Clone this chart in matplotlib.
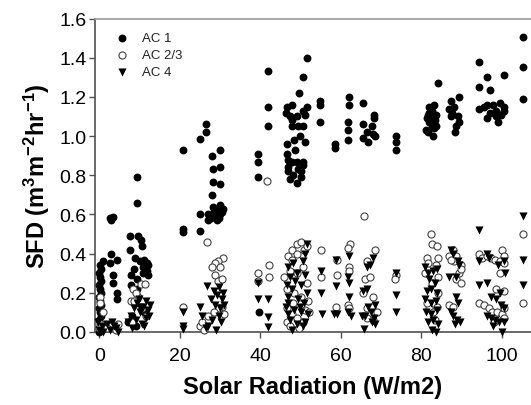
import matplotlib
matplotlib.use('Agg')
import matplotlib.pyplot as plt

plt.rcParams['font.family'] = ['Liberation Sans', 'DejaVu Sans']
plt.rcParams['mathtext.fontset'] = 'custom'
plt.rcParams['mathtext.rm'] = 'Liberation Sans:bold'
plt.rcParams['mathtext.it'] = 'Liberation Sans:bold'
plt.rcParams['mathtext.bf'] = 'Liberation Sans:bold'
plt.rcParams['mathtext.default'] = 'rm'

# AC 1 (filled circles)
ac1_x = [-0.2, 0.3, 0.1, -0.2, 0.3, 0.1, -0.2, 0.3, 0.1, -0.2, 0.3, 0.1, -0.2, 0.3, 0.1, -0.2, 0.3, 0.1, 0.9,
         2.6, 3.4, 3.0, 3.0, 4.4, 2.6, 3.4, 3.4, 4.4, 4.4, 3.5,
         9.3, 9.3, 7.6, 9.6, 10.3, 7.6, 10.5, 8.8, 11.0, 10.0, 11.8, 10.8, 8.6, 11.3, 7.8, 9.4, 10.8, 11.8,
         12.2, 12.0, 7.8, 9.3, 7.0, 8.0, 9.0, 11.0,
         20.8, 20.8, 20.8, 25.0, 26.5, 26.5, 25.0, 25.0,
         28.0, 30.0, 28.2, 30.0, 28.2, 30.0, 28.0, 28.2, 30.0, 27.0, 28.7, 30.5, 29.2, 27.0, 30.7, 29.5,
         28.5, 29.8, 30.0, 27.8,
         39.4, 39.4, 39.4, 41.9, 41.9, 41.9, 39.6,
         51.6, 50.7, 49.5, 46.6, 47.8, 51.6, 50.5, 51.2, 47.3, 49.0, 48.0, 49.3, 50.7, 48.5, 51.2, 46.6,
         46.6, 47.8, 49.0, 50.5, 50.7, 49.3, 46.8, 47.3, 49.0, 50.0, 47.0, 48.2, 50.2, 48.0, 46.5, 49.8,
         48.6, 47.0, 54.8, 54.8, 54.8,
         58.5, 58.5, 62.1, 62.1, 61.9, 61.9, 61.9,
         65.5, 68.3, 68.3, 65.5, 67.8, 68.0, 65.5, 66.5, 66.8, 68.5,
         73.8, 73.8, 73.8,
         84.2, 82.0, 83.2, 82.7, 81.7, 83.7, 82.5, 81.5, 82.7, 83.7, 81.2, 83.2, 82.0, 83.5, 82.0, 81.6, 83.0,
         87.4, 89.4, 86.9, 88.2, 87.4, 89.2, 89.4, 88.7, 88.4, 87.6,
         94.3, 96.3, 94.3, 97.0, 100.5, 94.3, 96.3, 97.8, 99.5, 98.5, 100.7, 97.0, 99.8, 96.3, 99.0, 98.7,
         100.5, 95.5,
         105.3, 105.3, 105.3]
ac1_y = [0.00, 0.02, 0.04, 0.06, 0.08, 0.10, 0.12, 0.14, 0.16, 0.18, 0.20, 0.22, 0.24, 0.26, 0.28, 0.30, 0.32,
         0.34, 0.36,
         0.58, 0.585, 0.57, 0.40, 0.37, 0.35, 0.29, 0.25, 0.20, 0.17, 0.03,
         0.79, 0.66, 0.49, 0.49, 0.47, 0.42, 0.44, 0.38, 0.37, 0.36, 0.35, 0.33, 0.32, 0.32, 0.29, 0.27, 0.30,
         0.31, 0.34, 0.29, 0.24, 0.22, 0.05, 0.08, 0.03, 0.10,
         0.93, 0.525, 0.51, 0.985, 1.02, 1.06, 0.60, 0.515,
         0.90, 0.93, 0.83, 0.84, 0.765, 0.755, 0.70, 0.64, 0.65, 0.60, 0.59, 0.61, 0.57, 0.57, 0.63, 0.62,
         0.62, 0.58, 0.60, 0.58,
         0.91, 0.87, 0.79, 1.33, 1.15, 1.05, 0.10,
         1.40, 1.30, 1.22, 1.15, 1.16, 1.15, 1.13, 1.11, 1.10, 1.10, 1.05, 1.05, 1.05, 0.98, 0.97, 0.96,
         0.91, 0.87, 0.87, 0.87, 0.85, 0.83, 0.82, 0.78, 0.76, 0.82, 0.84, 0.80, 0.79, 1.08, 1.12, 1.00,
         0.93, 0.88, 1.18, 1.16, 1.07,
         0.96, 0.94, 1.20, 1.16, 1.07, 1.03, 0.98,
         1.17, 1.11, 1.09, 1.06, 1.05, 1.01, 0.99, 1.02, 0.97, 1.00,
         1.00, 0.97, 0.93,
         1.27, 1.15, 1.16, 1.13, 1.11, 1.11, 1.09, 1.09, 1.05, 1.05, 1.03, 1.04, 1.07, 1.08, 1.12, 1.02, 1.00,
         1.18, 1.20, 1.14, 1.15, 1.10, 1.10, 1.07, 1.05, 1.02, 1.12,
         1.38, 1.30, 1.25, 1.235, 1.31, 1.14, 1.16, 1.16, 1.17, 1.13, 1.13, 1.12, 1.11, 1.09, 1.07, 1.10,
         1.15, 1.15,
         1.505, 1.35, 1.19]

# AC 2/3 (open circles)
ac23_x = [0.2, 0.2, 0.5, -0.2, 0.8,
          4.6, 3.0, 2.0, 4.0,
          10.3, 11.3, 8.3, 9.6, 7.8, 8.6, 9.0, 10.5, 8.0, 11.5,
          20.8,
          26.7, 30.7, 29.5, 28.8, 28.0, 30.0, 28.7, 29.5, 30.5, 25.0, 25.5, 30.5, 29.8, 27.0, 28.5, 31.0, 26.0,
          41.7, 39.4, 39.4, 42.2, 42.2,
          46.8, 47.8, 48.0, 49.2, 50.0, 50.8, 51.5, 49.0, 47.3, 49.0, 50.5, 51.5, 46.6, 48.5, 50.2, 46.6,
          47.8, 49.0, 51.0, 52.0, 46.6, 47.5, 49.5, 50.5, 48.2, 51.8, 46.0,
          55.1, 55.1, 59.0, 59.0, 58.8,
          62.4, 61.9, 62.1, 62.1, 61.9, 62.1,
          65.8, 68.5, 66.5, 66.0, 67.3, 68.0, 65.5, 66.5, 67.8, 68.0, 66.5, 69.0,
          73.8, 73.5,
          82.5, 82.7, 84.0, 81.5, 84.2, 83.7, 81.6, 84.2, 82.8, 81.0, 82.0, 83.0, 84.0, 83.5, 81.5, 84.2,
          86.9, 88.7, 88.2, 87.4, 89.9, 88.7, 89.5, 86.9, 87.9, 89.8, 88.0, 90.0,
          94.3, 95.0, 96.3, 97.3, 98.4, 100.0, 100.5, 99.5, 100.7, 94.3, 95.5, 96.8, 97.5, 98.8, 100.2,
          100.5, 100.7, 100.5, 98.5, 99.6, 98.0,
          105.3, 105.3]
ac23_y = [0.18, 0.15, 0.04, 0.02, 0.10,
          0.04, 0.03, 0.02, 0.01,
          0.245, 0.245, 0.22, 0.18, 0.16, 0.16, 0.20, 0.12, 0.05, 0.08,
          0.13,
          0.46, 0.38, 0.36, 0.35, 0.33, 0.33, 0.29, 0.26, 0.27, 0.03, 0.05, 0.13, 0.12, 0.08, 0.10, 0.09, 0.01,
          0.77, 0.30, 0.26, 0.34, 0.28,
          0.39, 0.37, 0.42, 0.45, 0.46, 0.42, 0.44, 0.40, 0.31, 0.30, 0.33, 0.25, 0.22, 0.20, 0.18, 0.12,
          0.09, 0.07, 0.11, 0.10, 0.05, 0.03, 0.02, 0.05, 0.15, 0.16, 0.28,
          0.42, 0.28, 0.37, 0.29, 0.13,
          0.45, 0.43, 0.33, 0.31, 0.14, 0.12,
          0.59, 0.42, 0.36, 0.27, 0.28, 0.18, 0.20, 0.12, 0.13, 0.06, 0.07, 0.10,
          0.29, 0.27,
          0.50, 0.45, 0.44, 0.38, 0.38, 0.34, 0.35, 0.28, 0.25, 0.30, 0.12, 0.10, 0.13, 0.06, 0.15, 0.20,
          0.39, 0.39, 0.36, 0.37, 0.34, 0.27, 0.30, 0.14, 0.13, 0.32, 0.42, 0.25,
          0.40, 0.38, 0.39, 0.38, 0.37, 0.42, 0.39, 0.36, 0.35, 0.15, 0.14, 0.12, 0.10, 0.10, 0.09,
          0.12, 0.07, 0.21, 0.22, 0.30, 0.05,
          0.50, 0.15]

# AC 4 (filled triangles)
ac4_x = [0.0, 0.6, -0.4, 1.0,
         1.8, 3.2, 4.0, 4.6, 3.6, 2.6,
         7.0, 7.8, 8.5, 9.3, 10.0, 10.8, 11.5, 12.0, 12.5, 9.0, 10.5, 11.5, 8.0, 12.3, 9.8, 11.0, 10.0,
         20.8, 20.8, 20.8,
         26.7, 28.5, 29.8, 30.8, 25.0, 25.5, 27.8, 28.8, 30.0, 28.0, 27.0, 29.0, 30.3, 29.2, 30.5, 26.5,
         29.8, 31.0,
         39.4, 39.4, 41.9, 41.9, 41.9,
         51.6, 51.2, 46.8, 48.2, 50.5, 47.3, 49.0, 51.0, 46.6, 48.0, 50.0, 51.5, 47.0, 49.3, 50.8, 46.5,
         48.5, 50.0, 51.8, 47.5, 49.0, 50.5, 48.0, 51.0, 47.0, 49.8, 48.6, 46.8,
         55.1, 55.1, 55.3, 58.8, 58.8, 59.0, 58.2,
         62.1, 61.9, 62.1, 61.9, 62.6, 62.1,
         68.0, 67.3, 66.5, 66.5, 65.5, 68.5, 66.8, 67.6, 66.0, 65.3, 68.3, 67.8, 68.5, 65.8,
         73.8, 73.8, 73.8,
         81.0, 81.8, 83.0, 84.0, 82.0, 83.5, 82.5, 81.5, 84.0, 81.0, 82.5, 83.7, 81.2, 82.5, 84.0, 83.0,
         81.8, 82.6, 83.8, 84.2,
         87.4, 87.9, 89.2, 89.4, 86.9, 88.7, 88.7, 89.2, 87.9, 89.0, 88.4, 89.6, 87.5,
         94.3, 94.3, 96.3, 96.8, 99.2, 100.5, 94.3, 96.3, 97.3, 98.5, 99.8, 100.5, 96.3, 97.3, 98.3, 99.3,
         100.5, 100.2, 97.8, 99.6, 100.8,
         105.3, 105.3, 105.3]
ac4_y = [0.01, 0.03, 0.05, 0.00,
         0.04, 0.05, 0.02, 0.00, 0.03, 0.01,
         0.05, 0.08, 0.12, 0.15, 0.10, 0.13, 0.16, 0.11, 0.14, 0.06, 0.04, 0.07, 0.02, 0.08, 0.17, 0.03, 0.13,
         0.10, 0.03, 0.015,
         0.235, 0.21, 0.23, 0.20, 0.13, 0.08, 0.17, 0.14, 0.12, 0.06, 0.03, 0.01, 0.05, 0.19, 0.17, 0.02,
         0.08, 0.14,
         0.25, 0.17, 0.17, 0.075, 0.025,
         0.45, 0.40, 0.33, 0.35, 0.36, 0.28, 0.30, 0.29, 0.24, 0.22, 0.24, 0.20, 0.18, 0.17, 0.15, 0.13,
         0.11, 0.10, 0.09, 0.06, 0.04, 0.03, 0.01, 0.05, 0.09, 0.13, 0.26, 0.15,
         0.31, 0.20, 0.09, 0.37, 0.235, 0.09, 0.09,
         0.39, 0.28, 0.18, 0.10, 0.08, 0.25,
         0.38, 0.34, 0.33, 0.22, 0.21, 0.14, 0.13, 0.10, 0.08, 0.08, 0.07, 0.05, 0.04, 0.015,
         0.30, 0.19, 0.10,
         0.33, 0.30, 0.31, 0.32, 0.27, 0.25, 0.22, 0.21, 0.20, 0.17, 0.15, 0.16, 0.10, 0.09, 0.11, 0.06,
         0.05, 0.01, 0.00, 0.04,
         0.42, 0.40, 0.36, 0.34, 0.28, 0.28, 0.18, 0.15, 0.08, 0.06, 0.04, 0.05, 0.10,
         0.52, 0.36, 0.40, 0.38, 0.34, 0.36, 0.24, 0.25, 0.18, 0.17, 0.14, 0.12, 0.08, 0.07, 0.06, 0.05,
         0.05, 0.00, 0.03, 0.20, 0.30,
         0.59, 0.37, 0.24]

x_ticks = [0, 20, 40, 60, 80, 100]
y_ticks = [0.0, 0.2, 0.4, 0.6, 0.8, 1.0, 1.2, 1.4, 1.6]


def plot_sfd():
    fig = plt.figure(figsize=(5.31, 4.06), dpi=100)
    ax = fig.add_axes([95 / 531, 73 / 406, 436 / 531, 313.5 / 406])

    ax.scatter(ac1_x, ac1_y, s=32, marker='o', color='black', linewidths=0, label='AC 1', clip_on=False, zorder=3)
    ax.scatter(ac23_x, ac23_y, s=26, marker='o', facecolors='white', edgecolors='#404040', linewidths=0.8,
               label='AC 2/3', clip_on=False, zorder=3)
    ax.scatter(ac4_x, ac4_y, s=34, marker='v', color='black', linewidths=0, label='AC 4', clip_on=False, zorder=3)

    ax.set_xlim(-1.1, 107.3)
    ax.set_ylim(0, 1.6)
    ax.set_xticks(x_ticks)
    ax.set_yticks(y_ticks)
    ax.set_yticklabels(['%.1f' % v for v in y_ticks])
    ax.tick_params(axis='both', direction='out', length=4, width=1, colors='#505050', labelcolor='black',
                   labelsize=14)
    ax.tick_params(axis='x', pad=7)
    ax.tick_params(axis='y', pad=2)

    ax.spines['right'].set_visible(False)
    ax.spines['top'].set_color('#999999')
    ax.spines['left'].set_color('#505050')
    ax.spines['bottom'].set_color('#505050')
    for s in ['top', 'left', 'bottom']:
        ax.spines[s].set_linewidth(1.2)

    ax.set_xlabel('Solar Radiation (W/m2)', fontsize=17, fontweight='bold', labelpad=8)
    ax.set_ylabel('SFD (m$^3$m$^{-2}$hr$^{-1}$)', fontsize=17, fontweight='bold', labelpad=5)

    ax.legend(loc='upper left', bbox_to_anchor=(0.02, 0.99), frameon=False, fontsize=9.5, handlelength=1.2,
              handletextpad=0.9, labelspacing=0.35, borderpad=0.3, labelcolor='#222222')

    fig.savefig('out.png', dpi=100)


if __name__ == '__main__':
    plot_sfd()
